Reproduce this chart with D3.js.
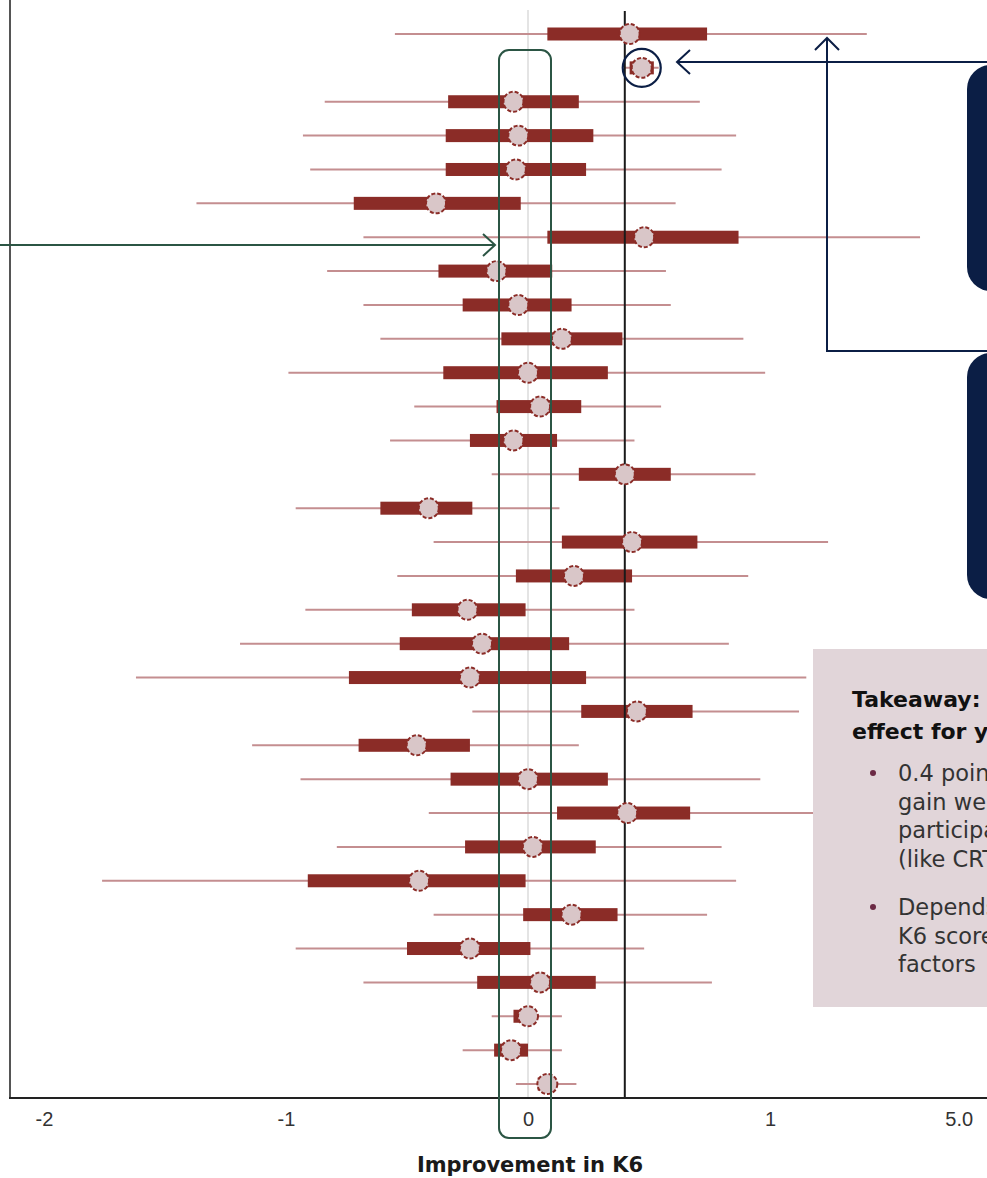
<!DOCTYPE html>
<html>
<head>
<meta charset="utf-8">
<script src="https://cdn.jsdelivr.net/npm/d3@7"></script>
<style>
  html, body { margin: 0; padding: 0; background: #fff; overflow: hidden; }
  svg { display: block; }
</style>
</head>
<body>
<svg id="chart" width="987" height="1178"></svg>
<script>
// Study rows, top to bottom
const studies = d3.range(1, 33).map(i => "Study " + i);
// Point estimates of improvement in K6
const estimate = [0.42, 0.47, -0.06, -0.04, -0.05, -0.38, 0.48, -0.13, -0.04, 0.14, 0.00, 0.05, -0.06, 0.40, -0.41, 0.43,
                  0.19, -0.25, -0.19, -0.24, 0.45, -0.46, 0.00, 0.41, 0.02, -0.45, 0.18, -0.24, 0.05, 0.00, -0.07, 0.08];
// Inner interval (thick bar)
const innerLo = [0.08, 0.42, -0.33, -0.34, -0.34, -0.72, 0.08, -0.37, -0.27, -0.11, -0.35, -0.13, -0.24, 0.21, -0.61, 0.14,
                 -0.05, -0.48, -0.53, -0.74, 0.22, -0.70, -0.32, 0.12, -0.26, -0.91, -0.02, -0.50, -0.21, -0.06, -0.14, 0.04];
const innerHi = [0.74, 0.52, 0.21, 0.27, 0.24, -0.03, 0.87, 0.10, 0.18, 0.39, 0.33, 0.22, 0.12, 0.59, -0.23, 0.70,
                 0.43, -0.01, 0.17, 0.24, 0.68, -0.24, 0.33, 0.67, 0.28, -0.01, 0.37, 0.01, 0.28, 0.03, 0.00, 0.11];
// Outer interval (thin line)
const outerLo = [-0.55, 0.40, -0.84, -0.93, -0.90, -1.37, -0.68, -0.83, -0.68, -0.61, -0.99, -0.47, -0.57, -0.15, -0.96, -0.39,
                 -0.54, -0.92, -1.19, -1.62, -0.23, -1.14, -0.94, -0.41, -0.79, -1.76, -0.39, -0.96, -0.68, -0.15, -0.27, -0.05];
const outerHi = [1.40, 0.54, 0.71, 0.86, 0.80, 0.61, 1.62, 0.57, 0.59, 0.89, 0.98, 0.55, 0.44, 0.94, 0.13, 1.24,
                 0.91, 0.44, 0.83, 1.15, 1.12, 0.21, 0.96, 1.18, 0.80, 0.86, 0.74, 0.48, 0.76, 0.14, 0.14, 0.20];
// Pooled effect
const pooled = 0.4;
// Axis ticks
const tickValues = [-2, -1, 0, 1, 1.78];
const tickLabels = ["-2", "-1", "0", "1", "5.0"];

const rows = studies.map((s, i) => ({
  study: s, est: estimate[i], ilo: innerLo[i], ihi: innerHi[i], olo: outerLo[i], ohi: outerHi[i]
}));

const svg = d3.select("#chart");
const W = 987, H = 1178;
const axisY = 1098, axisX = 10;

const x = d3.scaleLinear().domain([0, 1]).range([528, 770]);
const y = d3.scalePoint().domain(studies).range([34, 1084]);

const darkRed = "#8b2c27", thinRed = "#c48e90", dotFill = "#d9c6c8";
const green = "#2b5544", navy = "#0b1e45";

// zero reference
svg.append("line")
  .attr("x1", x(0)).attr("x2", x(0)).attr("y1", 10).attr("y2", axisY)
  .attr("stroke", "#e4e4e4").attr("stroke-width", 2);

// outer intervals
svg.append("g").selectAll("line").data(rows).join("line")
  .attr("x1", d => x(d.olo)).attr("x2", d => x(d.ohi))
  .attr("y1", d => y(d.study)).attr("y2", d => y(d.study))
  .attr("stroke", thinRed).attr("stroke-width", 2);

// inner intervals
svg.append("g").selectAll("rect").data(rows).join("rect")
  .attr("x", d => x(d.ilo)).attr("width", d => x(d.ihi) - x(d.ilo))
  .attr("y", d => y(d.study) - 6.5).attr("height", 13)
  .attr("fill", darkRed);

// pooled effect line
svg.append("line")
  .attr("x1", x(pooled)).attr("x2", x(pooled)).attr("y1", 11).attr("y2", axisY)
  .attr("stroke", "#1a1a1a").attr("stroke-width", 2);

// point estimates
svg.append("g").selectAll("circle").data(rows).join("circle")
  .attr("cx", d => x(d.est)).attr("cy", d => y(d.study)).attr("r", 10)
  .attr("fill", dotFill).attr("stroke", darkRed).attr("stroke-width", 2)
  .attr("stroke-dasharray", "4 2");

// frame
svg.append("line").attr("x1", axisX).attr("x2", axisX).attr("y1", 0).attr("y2", axisY)
  .attr("stroke", "#555").attr("stroke-width", 2);
svg.append("line").attr("x1", axisX - 1).attr("x2", W).attr("y1", axisY).attr("y2", axisY)
  .attr("stroke", "#222").attr("stroke-width", 2);

// x axis labels
const xAxis = d3.axisBottom(x).tickValues(tickValues)
  .tickFormat((d, i) => tickLabels[i]).tickSize(0).tickPadding(14);
const gx = svg.append("g").attr("transform", `translate(0,${axisY})`).call(xAxis);
gx.select(".domain").remove();
gx.selectAll("text").attr("font-family", "Liberation Sans, Arial, sans-serif")
  .attr("font-size", 20).attr("fill", "#333");

svg.append("text").attr("x", 530).attr("y", 1172).attr("text-anchor", "middle")
  .attr("font-family", "DejaVu Sans, sans-serif").attr("font-weight", "bold")
  .attr("font-size", 21).attr("fill", "#1a1a1a").text("Improvement in K6");

// highlight around studies near zero
svg.append("rect").attr("x", 499).attr("y", 50).attr("width", 52).attr("height", 1088)
  .attr("rx", 10).attr("fill", "none").attr("stroke", green).attr("stroke-width", 2);

// green arrow from the left
svg.append("line").attr("x1", 0).attr("x2", 495).attr("y1", 245).attr("y2", 245)
  .attr("stroke", green).attr("stroke-width", 2);
svg.append("path").attr("d", "M483,234 L495,245 L483,256")
  .attr("fill", "none").attr("stroke", green).attr("stroke-width", 2);

// circled outlier and arrow
svg.append("circle").attr("cx", x(estimate[1])).attr("cy", y(studies[1])).attr("r", 19)
  .attr("fill", "none").attr("stroke", navy).attr("stroke-width", 2.2);
svg.append("line").attr("x1", 677).attr("x2", W).attr("y1", 62).attr("y2", 62)
  .attr("stroke", navy).attr("stroke-width", 2);
svg.append("path").attr("d", "M690,50 L677,62 L690,74")
  .attr("fill", "none").attr("stroke", navy).attr("stroke-width", 2);

// elbow arrow up
svg.append("path").attr("d", `M${W},351 L827,351 L827,38`)
  .attr("fill", "none").attr("stroke", navy).attr("stroke-width", 2);
svg.append("path").attr("d", "M815,50 L827,38 L839,50")
  .attr("fill", "none").attr("stroke", navy).attr("stroke-width", 2);

// callout boxes
svg.append("rect").attr("x", 967).attr("y", 65).attr("width", 60).attr("height", 226)
  .attr("rx", 24).attr("fill", navy);
svg.append("rect").attr("x", 967).attr("y", 353).attr("width", 60).attr("height", 246)
  .attr("rx", 24).attr("fill", navy);

// takeaway panel
svg.append("rect").attr("x", 813).attr("y", 649).attr("width", 200).attr("height", 358)
  .attr("fill", "#e1d5d9");
const tk = svg.append("g").attr("font-family", "DejaVu Sans, sans-serif").attr("font-weight", "bold")
  .attr("font-size", 22).attr("fill", "#111");
tk.append("text").attr("x", 852).attr("y", 707).text("Takeaway:");
tk.append("text").attr("x", 852).attr("y", 739).text("effect for you");

const bullets = [
  ["0.4 point", "gain were", "participants", "(like CRT"],
  ["Depends", "K6 score", "factors"]
];
const bt = svg.append("g").attr("font-family", "DejaVu Sans, sans-serif").attr("font-size", 22.5).attr("fill", "#333");
let by = 781;
bullets.forEach(lines => {
  bt.append("circle").attr("cx", 873).attr("cy", by - 8).attr("r", 3).attr("fill", "#6b2a45");
  lines.forEach((t, j) => {
    bt.append("text").attr("x", 898).attr("y", by + j * 28.5).text(t);
  });
  by += lines.length * 28.5 + 20;
});
</script>
</body>
</html>
